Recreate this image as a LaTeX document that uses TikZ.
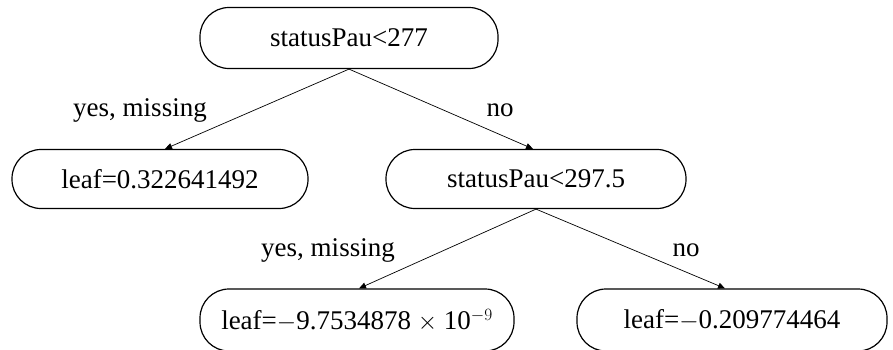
\documentclass[tikz,border=0pt]{standalone}
\usepackage{fontspec}
\setmainfont{Liberation Serif}
\usetikzlibrary{arrows.meta}
\begin{document}
\begin{tikzpicture}[x=1pt,y=-1pt,
  pill/.style={draw, line width=1.2pt, rounded corners=29pt, minimum height=59pt, inner sep=0pt, font=\fontsize{27}{31}\selectfont},
  edge/.style={line width=0.7pt, -{Triangle[length=7pt,width=6pt]}},
  lbl/.style={font=\fontsize{27}{31}\selectfont, inner sep=0pt}]
\useasboundingbox (0,0) rectangle (893,349);
\node[pill, minimum width=298pt, minimum height=61pt] (root) at (349,38) {statusPau<277};
\node[pill, minimum width=296pt] (leafA) at (160,179) {leaf=0.322641492};
\node[pill, minimum width=300pt] (mid) at (536,179) {statusPau<297.5};
\node[pill, minimum width=314pt, minimum height=62pt] (leafB) at (357,320) {leaf=$-$9.7534878 $\times$ 10$^{-9}$};
\node[pill, minimum width=310pt, minimum height=62pt] (leafC) at (732,320) {leaf=$-$0.209774464};
\draw[edge] (root.south) -- ([xshift=5pt]leafA.north);
\draw[edge] (root.south) -- ([xshift=-3pt]mid.north);
\draw[edge] (mid.south) -- ([xshift=2pt]leafB.north);
\draw[edge] (mid.south) -- ([xshift=-7pt]leafC.north);
\node[lbl] (l1) at (140,110) {yes, missing};
\node[lbl] (l2) at (500,110) {no};
\node[lbl] (l3) at (328,250) {yes, missing};
\node[lbl] (l4) at (686,250) {no};
\end{tikzpicture}
\end{document}
